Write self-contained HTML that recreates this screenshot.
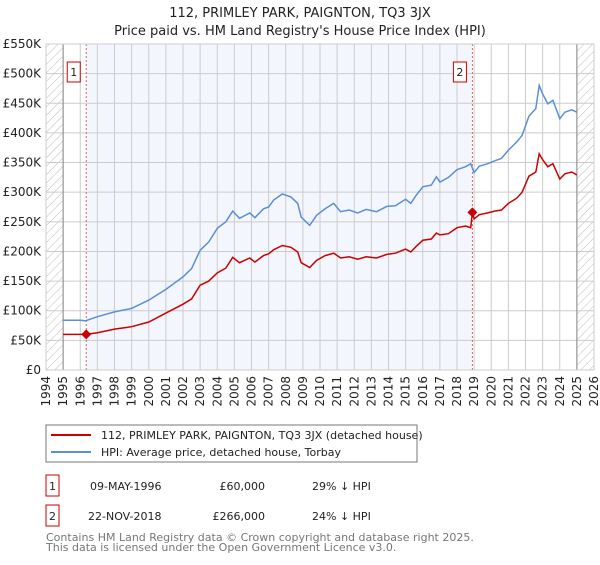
<!DOCTYPE html>
<html><head><meta charset="utf-8"><style>
body{margin:0;background:#fff;font-family:"Liberation Sans","DejaVu Sans",sans-serif;}
svg text{font-family:"DejaVu Sans","Liberation Sans",sans-serif;}
</style></head><body>
<svg id="c" width="600" height="560" xmlns="http://www.w3.org/2000/svg">
<defs><pattern id="hatch" width="6" height="6" patternUnits="userSpaceOnUse" patternTransform="rotate(45)"><line x1="0" y1="0" x2="0" y2="6" stroke="#bbb" stroke-width="1"/></pattern></defs>
<text x="300" y="17" text-anchor="middle" font-size="13" fill="#222">112, PRIMLEY PARK, PAIGNTON, TQ3 3JX</text>
<text x="300" y="35" text-anchor="middle" font-size="13" fill="#222">Price paid vs. HM Land Registry's House Price Index (HPI)</text>
<g id="plot"></g>
<g>
<rect x="46" y="425" width="371" height="37" fill="#fff" stroke="#777"/>
<line x1="51" y1="435" x2="91" y2="435" stroke="#cc0000" stroke-width="2"/>
<text x="101" y="439" font-size="11" fill="#222">112, PRIMLEY PARK, PAIGNTON, TQ3 3JX (detached house)</text>
<line x1="51" y1="452" x2="91" y2="452" stroke="#5b8fd6" stroke-width="2"/>
<text x="101" y="456" font-size="11" fill="#222">HPI: Average price, detached house, Torbay</text>
</g>
<g font-size="11" fill="#222">
<rect x="46" y="475" width="13" height="21" fill="#fff" stroke="#cc0000"/><text x="52.5" y="490" text-anchor="middle">1</text>
<text x="90" y="490">09-MAY-1996</text><text x="265" y="490" text-anchor="end">£60,000</text><text x="312" y="490">29% ↓ HPI</text>
<rect x="46" y="505" width="13" height="21" fill="#fff" stroke="#cc0000"/><text x="52.5" y="520" text-anchor="middle">2</text>
<text x="88" y="520">22-NOV-2018</text><text x="265" y="520" text-anchor="end">£266,000</text><text x="312" y="520">24% ↓ HPI</text>
</g>
<text x="46" y="541" font-size="11" fill="#777">Contains HM Land Registry data © Crown copyright and database right 2025.</text>
<text x="46" y="551" font-size="11" fill="#777">This data is licensed under the Open Government Licence v3.0.</text>
</svg>
<script>
const hpiYears=[1995,1996,1996.3,1997,1998,1999,2000,2001,2002,2002.5,2003,2003.5,2004,2004.5,2004.9,2005.3,2005.9,2006.2,2006.7,2007,2007.3,2007.8,2008.3,2008.7,2008.9,2009.4,2009.8,2010.3,2010.8,2011.2,2011.7,2012.2,2012.7,2013.3,2013.9,2014.4,2015,2015.3,2015.6,2016,2016.5,2016.8,2017,2017.5,2018,2018.5,2018.8,2019,2019.3,2019.8,2020.2,2020.6,2021,2021.5,2021.8,2022.2,2022.6,2022.8,2023,2023.3,2023.6,2024,2024.3,2024.7,2025];
const hpiValues=[84,84,83,90,98,104,118,136,157,171,202,216,239,250,268,256,265,257,272,275,287,297,292,281,258,244,261,272,281,267,270,265,271,267,276,277,288,281,294,309,312,326,317,325,338,343,348,333,344,348,353,357,371,385,396,428,441,480,466,449,455,424,435,439,435];
const priceYears=[1995,1996.35,1997,1998,1999,2000,2001,2002,2002.5,2003,2003.5,2004,2004.5,2004.9,2005.3,2005.9,2006.2,2006.7,2007,2007.3,2007.8,2008.3,2008.7,2008.9,2009.4,2009.8,2010.3,2010.8,2011.2,2011.7,2012.2,2012.7,2013.3,2013.9,2014.4,2015,2015.3,2015.6,2016,2016.5,2016.8,2017,2017.5,2018,2018.5,2018.8,2018.9,2019,2019.3,2019.8,2020.2,2020.6,2021,2021.5,2021.8,2022.2,2022.6,2022.8,2023,2023.3,2023.6,2024,2024.3,2024.7,2025];
const priceValues=[60,60,63,69,73,81,96,111,120,143,150,164,172,190,181,189,182,193,196,203,210,207,199,181,173,185,193,197,189,191,187,191,189,195,197,204,199,208,219,221,231,228,230,240,243,240,266,255,262,265,268,270,281,290,300,327,334,365,355,343,348,322,331,334,329];
const saleYears=[1996.35,2018.9];
const saleValues=[60,266];
const saleLabels=["1","2"];
const yTicks=[0,50,100,150,200,250,300,350,400,450,500,550];
const yTickLabels=["£0","£50K","£100K","£150K","£200K","£250K","£300K","£350K","£400K","£450K","£500K","£550K"];
const xTicks=[1994,1995,1996,1997,1998,1999,2000,2001,2002,2003,2004,2005,2006,2007,2008,2009,2010,2011,2012,2013,2014,2015,2016,2017,2018,2019,2020,2021,2022,2023,2024,2025,2026];

const X0=46,X1=594,Y0=370,Y1=44;
const x=v=>X0+(v-1994)/(2026-1994)*(X1-X0);
const y=v=>Y0-v/550*(Y0-Y1);
const NS="http://www.w3.org/2000/svg";
const g=document.getElementById('plot');
function mk(t,a){const e=document.createElementNS(NS,t);for(const k in a)e.setAttribute(k,a[k]);g.appendChild(e);return e;}
let e;
e=mk('rect',{x:X0,y:Y1,width:X1-X0,height:Y0-Y1,fill:'#fff'});


e=mk('rect',{x:x(saleYears[0]),y:Y1,width:x(saleYears[1])-x(saleYears[0]),height:Y0-Y1,fill:'#f3f6fd'});


e=mk('rect',{x:X0,y:Y1,width:x(1995)-X0,height:Y0-Y1,fill:'url(#hatch)'});


e=mk('rect',{x:x(2025),y:Y1,width:X1-x(2025),height:Y0-Y1,fill:'url(#hatch)'});


yTicks.forEach((t,i)=>{
 e=mk('line',{x1:X0,x2:X1,y1:y(t),y2:y(t),stroke:'#ccc','stroke-width':1});
 
 
 e=mk('text',{x:X0-5,y:y(t)+4,'text-anchor':'end','font-size':12,fill:'#222'});
 e.textContent=yTickLabels[i];
 
 
});
xTicks.forEach(t=>{
 e=mk('line',{x1:x(t),x2:x(t),y1:Y1,y2:Y0,stroke:'#ccc','stroke-width':1});
 
 
 e=mk('text',{x:0,y:0,'text-anchor':'end','font-size':12,fill:'#222',transform:`translate(${x(t)+4},${Y0+6}) rotate(-90)`});
 e.textContent=String(t);
 
 
});
[1995,2025].forEach(t=>{
 e=mk('line',{x1:x(t),x2:x(t),y1:Y1,y2:Y0,stroke:'#888','stroke-width':1});
 
 
});
saleYears.forEach((s,i)=>{
 e=mk('line',{x1:x(s),x2:x(s),y1:Y1,y2:Y0,stroke:'#e06060','stroke-width':1,'stroke-dasharray':'2,2'});
 
 
});
const pts=(xs,vs)=>xs.map((t,i)=>x(t).toFixed(1)+','+y(vs[i]).toFixed(1)).join(' ');
e=mk('polyline',{points:pts(hpiYears,hpiValues),fill:'none',stroke:'#5b8fd6','stroke-width':1.5});


e=mk('polyline',{points:pts(priceYears,priceValues),fill:'none',stroke:'#cc0000','stroke-width':1.5});


saleYears.forEach((s,i)=>{
 const cx=x(s),cy=y(saleValues[i]);
 e=mk('polygon',{points:`${cx},${cy-5} ${cx+5},${cy} ${cx},${cy+5} ${cx-5},${cy}`,fill:'#cc0000'});
 
 
 e=mk('rect',{x:cx-19,y:62,width:13,height:20,fill:'#fff',stroke:'#cc0000'});
 
 
 e=mk('text',{x:cx-12.5,y:76,'text-anchor':'middle','font-size':11,fill:'#222'});
 e.textContent=saleLabels[i];
 
 
});
e=mk('rect',{x:X0,y:Y1,width:X1-X0,height:Y0-Y1,fill:'none',stroke:'#ccc'});


</script>
</body></html>
